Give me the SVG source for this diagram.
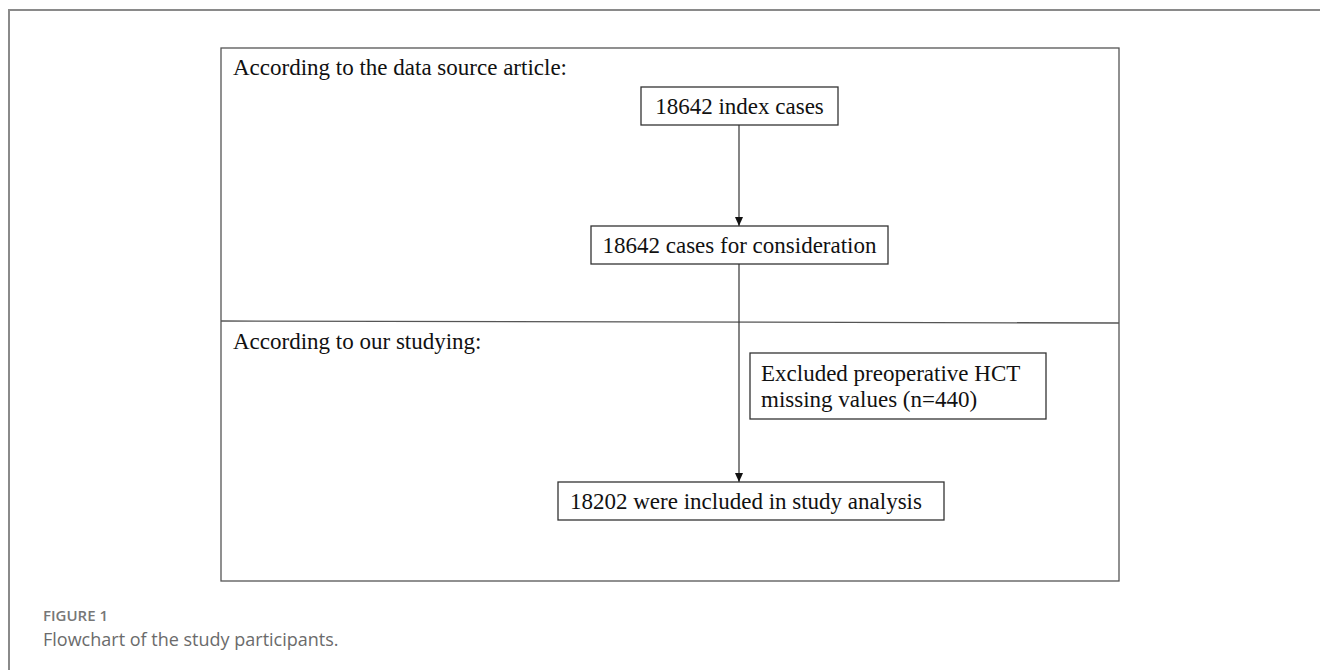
<svg xmlns="http://www.w3.org/2000/svg" width="1320" height="670" viewBox="0 0 1320 670">
<defs>
<style>
.t{font-family:"Liberation Serif","Times New Roman",serif;font-size:23px;fill:#111}
.box{fill:#fff;stroke:#333;stroke-width:1.3}
.frame{fill:none;stroke:#555;stroke-width:1.3}
.ln{stroke:#333;stroke-width:1.2;fill:none}
.cap1{font-family:"Open Sans","Liberation Sans",sans-serif;font-size:15px;font-weight:600;fill:#777}
.cap2{font-family:"Open Sans","Liberation Sans",sans-serif;font-size:18px;fill:#6b6b6b}
</style>
<marker id="arr" markerWidth="10" markerHeight="10" refX="9" refY="4" orient="auto" markerUnits="userSpaceOnUse">
<path d="M0,0 L9,4 L0,8 Z" fill="#111"/>
</marker>
</defs>
<rect width="1320" height="670" fill="#fff"/>
<rect x="9" y="10" width="1340" height="690" fill="none" stroke="#8a8a8a" stroke-width="2"/>
<g id="panel">
<rect class="frame" x="221" y="48" width="898" height="533"/>
<line class="frame" x1="221" y1="321" x2="1119" y2="323"/>
<text class="t" x="233" y="75">According to the data source article:</text>
<text class="t" x="233" y="349">According to our studying:</text>
</g>
<g id="connectors">
<line class="ln" x1="739" y1="125" x2="739" y2="226" marker-end="url(#arr)"/>
<line class="ln" x1="739" y1="264" x2="739" y2="482" marker-end="url(#arr)"/>
</g>
<g id="n1">
<rect class="box" x="641" y="87" width="197" height="38"/>
<text class="t" x="739.5" y="114" text-anchor="middle">18642 index cases</text>
</g>
<g id="n2">
<rect class="box" x="591" y="226" width="297" height="38"/>
<text class="t" x="739.5" y="253" text-anchor="middle">18642 cases for consideration</text>
</g>
<g id="n3">
<rect class="box" x="750" y="353" width="296" height="66"/>
<text class="t" x="761" y="381">Excluded preoperative HCT</text>
<text class="t" x="761" y="407">missing values (n=440)</text>
</g>
<g id="n4">
<rect class="box" x="558" y="482" width="386" height="38"/>
<text class="t" x="570" y="509">18202 were included in study analysis</text>
</g>
<g id="caption">
<text class="cap1" x="43" y="621">FIGURE 1</text>
<text class="cap2" x="43" y="646">Flowchart of the study participants.</text>
</g>
</svg>
